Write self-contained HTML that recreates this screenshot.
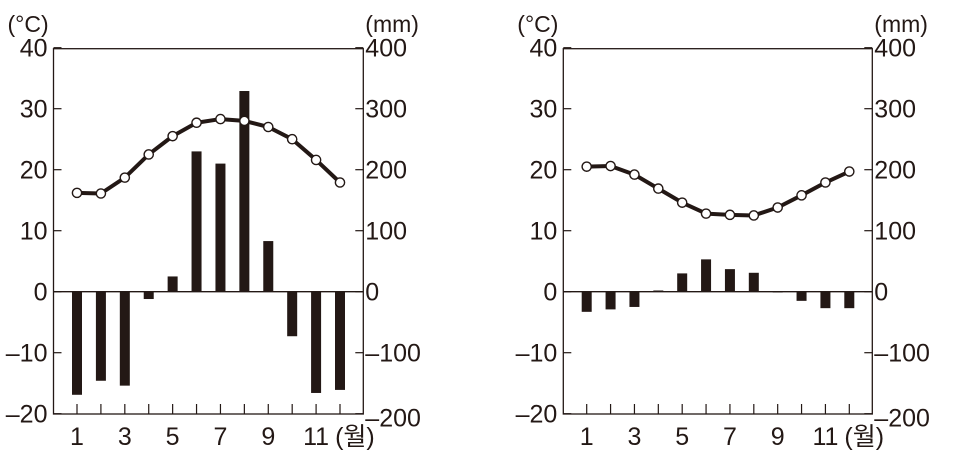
<!DOCTYPE html>
<html><head><meta charset="utf-8"><style>
html,body{margin:0;padding:0;background:#fff;}
svg{display:block;}
text{font-family:"Liberation Sans","Noto Sans CJK KR",sans-serif;fill:#231815;}
</style></head><body>
<svg id="s" width="958" height="454" viewBox="0 0 958 454" xmlns="http://www.w3.org/2000/svg"></svg>
<script>
const C='#231815';
const charts=[
 {x0:53.5,x1:363.3,m1:77,m12:340,
  t:[16.2,16.1,18.7,22.5,25.5,27.7,28.3,28.0,27.0,25.0,21.6,17.9],
  p:[-169,-146,-154,-12,25,230,210,329,83,-73,-166,-161]},
 {x0:563.3,x1:872.3,m1:586.7,m12:849.3,
  t:[20.5,20.6,19.2,16.9,14.6,12.8,12.6,12.5,13.8,15.8,17.9,19.7],
  p:[-33,-29,-25,2,30,53,37,31,-1,-15,-27,-27]}
];
const yTop=48.7,yBot=414,y0=291.7,u=6.1;
let h='';
const Y=v=>y0-v*u;
for(const c of charts){
  const mx=i=>c.m1+(c.m12-c.m1)*i/11;
  c.p.forEach((v,i)=>{const a=Y(v/10),b=y0;h+=`<rect x="${mx(i)-5}" y="${Math.min(a,b)}" width="10" height="${Math.max(Math.abs(a-b),0.8)}" fill="${C}"/>`;});
  h+=`<rect x="${c.x0}" y="${yTop}" width="${c.x1-c.x0}" height="${yBot-yTop}" fill="none" stroke="${C}" stroke-width="1.3"/>`;
  h+=`<line x1="${c.x0}" x2="${c.x1}" y1="${y0}" y2="${y0}" stroke="${C}" stroke-width="1.3"/>`;
  for(let v=-20;v<=40;v+=10){const y=Y(v);
    h+=`<line x1="${c.x0}" x2="${c.x0+8}" y1="${y}" y2="${y}" stroke="${C}" stroke-width="1.2"/>`;
    h+=`<line x1="${c.x1-8}" x2="${c.x1}" y1="${y}" y2="${y}" stroke="${C}" stroke-width="1.2"/>`;
    const l=(v<0?'\u2013'+(-v):''+v);
    h+=`<text x="${c.x0-6}" y="${y+9}" font-size="25" text-anchor="end">${l}</text>`;
    const r=(v<0?'\u2013'+(-v*10):''+(v*10));
    h+=`<text x="${c.x1+2}" y="${y+9+(v==-20?4:0)}" font-size="25">${r}</text>`;
  }
  for(let i=0;i<12;i++){h+=`<line x1="${mx(i)}" x2="${mx(i)}" y1="${yBot-10}" y2="${yBot}" stroke="${C}" stroke-width="1.2"/>`;}
  [0,2,4,6,8,10].forEach(i=>{h+=`<text x="${mx(i)}" y="445" font-size="25" text-anchor="middle">${i+1}</text>`;});
  h+=`<text x="${mx(10)+19}" y="445" font-size="25">(월)</text>`;
  h+=`<text x="${c.x0-46}" y="32" font-size="23">(°C)</text>`;
  h+=`<text x="${c.x1+2}" y="32" font-size="23">(mm)</text>`;
  const pts=c.t.map((v,i)=>mx(i)+','+Y(v)).join(' ');
  h+=`<polyline points="${pts}" fill="none" stroke="${C}" stroke-width="4" stroke-linejoin="round"/>`;
  c.t.forEach((v,i)=>{h+=`<circle cx="${mx(i)}" cy="${Y(v)}" r="4.6" fill="#fff" stroke="${C}" stroke-width="1.4"/>`;});
}
document.getElementById('s').innerHTML=h;
</script>
</body></html>
